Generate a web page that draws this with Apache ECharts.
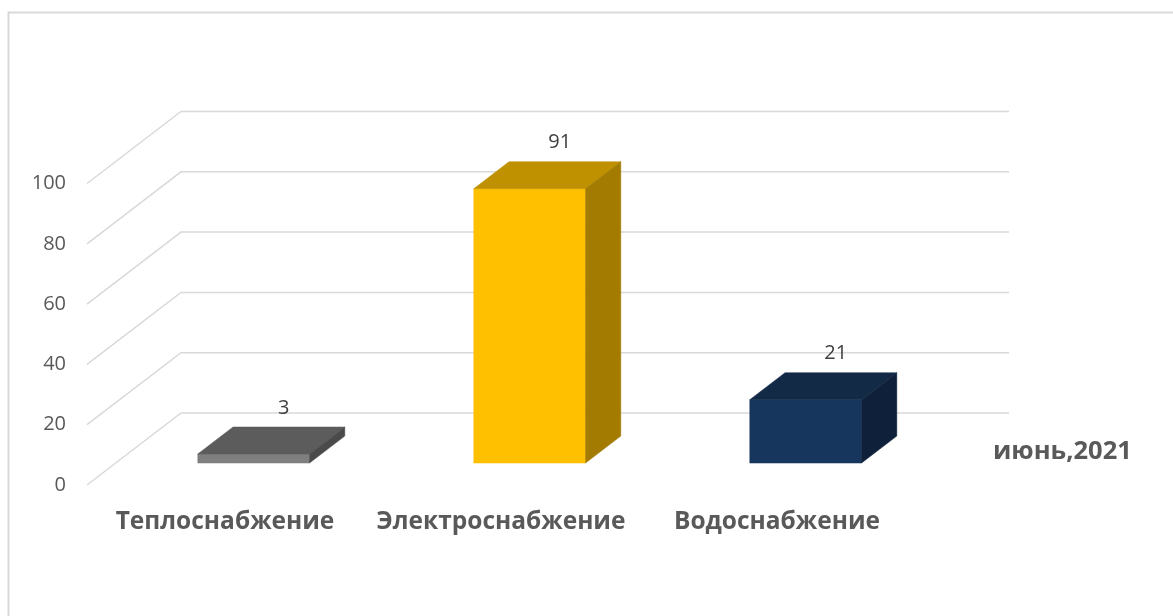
<!DOCTYPE html>
<html>
<head>
<meta charset="utf-8">
<script src="https://cdn.jsdelivr.net/npm/echarts@6/dist/echarts.min.js"></script>
<style>
  html, body { margin: 0; padding: 0; background: #fff; }
  #chart { width: 1173px; height: 616px; }
</style>
</head>
<body>
<div id="chart"></div>
<script>
// data
const categories = ['Теплоснабжение', 'Электроснабжение', 'Водоснабжение']
const values = [3, 91, 21]
const yTicks = [0, 20, 40, 60, 80, 100]
const seriesName = 'июнь,2021'

// 3d look
const DX = 94   // depth shift to the back wall, px
const DY = -72
const D0 = 0.305 // bar front in depth fraction
const D1 = 0.68  // bar back
const BAR_W = 0.405
const faceColors = [
  { front: '#7f7f7f', top: '#5c5c5c', side: '#4a4a4a' },
  { front: '#ffc000', top: '#bf9000', side: '#a37b00' },
  { front: '#17365d', top: '#132a47', side: '#0f213a' }
]
const FONT = '"Open Sans", "Noto Sans", sans-serif'

const chart = echarts.init(document.getElementById('chart'))

const gridLines = (params, api) => {
  const cs = params.coordSys
  const y = api.coord([0, api.value(1)])[1]
  return {
    type: 'polyline',
    shape: {
      points: [
        [cs.x, y],
        [cs.x + DX, y + DY],
        [cs.x + cs.width + DX, y + DY]
      ]
    },
    style: { stroke: '#d9d9d9', lineWidth: 1.5, fill: null }
  }
}

const bars = (params, api) => {
  const i = api.value(0)
  const v = api.value(1)
  const base = api.coord([i, 0])
  const top = api.coord([i, v])
  const w = api.size([1, 0])[0] * BAR_W
  const sx = DX * D0, sy = DY * D0
  const dx = DX * (D1 - D0), dy = DY * (D1 - D0)
  const x0 = base[0] - w / 2 + sx
  const x1 = base[0] + w / 2 + sx
  const yb = base[1] + sy
  const yt = top[1] + sy
  const c = faceColors[i]
  const face = (pts, col) => ({
    type: 'polygon',
    shape: { points: pts },
    style: { fill: col, stroke: col, lineWidth: 0.5 }
  })
  return {
    type: 'group',
    children: [
      face([[x0, yt], [x1, yt], [x1, yb], [x0, yb]], c.front),
      face([[x0, yt], [x0 + dx, yt + dy], [x1 + dx, yt + dy], [x1, yt]], c.top),
      face([[x1, yt], [x1 + dx, yt + dy], [x1 + dx, yb + dy], [x1, yb]], c.side),
      {
        type: 'text',
        style: {
          text: String(v),
          x: base[0] + sx + 30,
          y: yt + dy - 19,
          align: 'center',
          verticalAlign: 'middle',
          fill: '#404040',
          font: '20px ' + FONT
        }
      }
    ]
  }
}

const option = {
  animation: false,
  graphic: [
    {
      type: 'rect',
      shape: { x: 8.5, y: 12.5, width: 1300, height: 800 },
      style: { fill: null, stroke: '#d9d9d9', lineWidth: 2 },
      silent: true
    }
  ],
  legend: {
    data: [{ name: seriesName, icon: 'rect' }],
    left: 983,
    top: 434,
    itemWidth: 0,
    itemHeight: 0,
    textStyle: { color: '#595959', fontSize: 25.5, fontWeight: 'bold', fontFamily: FONT }
  },
  grid: {
    left: 87,
    width: 828,
    top: 183.5,
    bottom: 131
  },
  xAxis: {
    type: 'category',
    data: categories,
    axisLine: { show: false },
    axisTick: { show: false },
    axisLabel: {
      interval: 0,
      margin: 25,
      color: '#595959',
      fontSize: 24.5,
      fontWeight: 'bold',
      fontFamily: FONT
    }
  },
  yAxis: {
    type: 'value',
    min: 0,
    max: 100,
    interval: 20,
    axisLine: { show: false },
    axisTick: { show: false },
    splitLine: { show: false },
    axisLabel: {
      margin: 21,
      color: '#595959',
      fontSize: 20,
      fontFamily: FONT
    }
  },
  series: [
    {
      name: 'grid',
      type: 'custom',
      silent: true,
      z: 1,
      renderItem: gridLines,
      encode: { x: 0, y: 1 },
      data: yTicks.map(t => [0, t])
    },
    {
      name: seriesName,
      type: 'custom',
      z: 2,
      itemStyle: { color: '#595959' },
      renderItem: bars,
      encode: { x: 0, y: 1 },
      data: values.map((v, i) => [i, v])
    }
  ]
}

chart.setOption(option)
</script>
</body>
</html>
